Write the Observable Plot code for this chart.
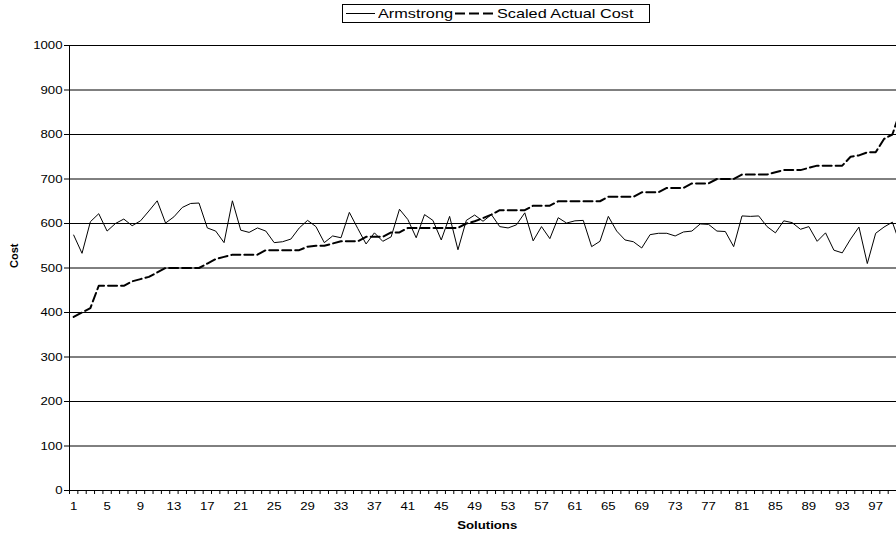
<!DOCTYPE html>
<html>
<head>
<meta charset="utf-8">
<script src="https://cdn.jsdelivr.net/npm/d3@7"></script>
<script src="https://cdn.jsdelivr.net/npm/@observablehq/plot@0.6"></script>
<style>
  html, body { margin: 0; padding: 0; background: #fff; overflow: hidden; width: 896px; height: 535px; }
  #wrap { position: relative; width: 896px; height: 535px; font-family: "Liberation Sans", Arial, sans-serif; }
  #legend { position: absolute; left: 342px; top: 4px; width: 308px; height: 19px; box-sizing: border-box;
            border: 1px solid #000; background: #fff; font-size: 13px; color: #000; }
  #legend .item { position: absolute; top: 0; height: 17px; line-height: 17px; white-space: nowrap;
                  transform-origin: left center; transform: scaleX(1.25); }
  #legend svg { position: absolute; top: 0; }
</style>
</head>
<body>
<div id="wrap">
  <div id="chart"></div>
  <div id="legend">
    <svg style="left:3px" width="29" height="17"><line x1="0" y1="8.5" x2="29" y2="8.5" stroke="#000" stroke-width="1"/></svg>
    <span class="item" style="left:35px">Armstrong</span>
    <svg style="left:112px" width="38" height="17"><line x1="0" y1="8.5" x2="38" y2="8.5" stroke="#000" stroke-width="2" stroke-dasharray="10,4"/></svg>
    <span class="item" style="left:154px">Scaled Actual Cost</span>
  </div>
</div>
<script>
const seriesNames = ["Armstrong", "Scaled Actual Cost"];

const armstrong = [
  574,533,604,622,583,600,610,595,606,628,
  651,601,615,636,645,646,590,583,557,651,
  585,580,590,583,557,559,565,590,607,593,
  557,572,568,625,589,554,579,560,570,632,
  609,568,620,607,563,616,541,607,619,605,
  620,593,590,597,624,561,593,566,613,601,
  606,607,548,560,616,583,563,559,545,575,
  578,578,572,581,583,599,598,583,582,548,
  617,616,617,593,579,606,602,587,593,560,
  579,540,534,565,592,510,578,592,603,550
];

const scaledActualCost = [
  390,400,410,460,460,460,460,470,475,480,
  490,500,500,500,500,500,510,520,525,530,
  530,530,530,540,540,540,540,540,548,550,
  550,555,560,560,560,570,570,570,580,580,
  590,590,590,590,590,590,590,600,605,612,
  620,630,630,630,630,640,640,640,650,650,
  650,650,650,650,660,660,660,660,670,670,
  670,680,680,680,690,690,690,700,700,700,
  710,710,710,710,715,720,720,720,725,730,
  730,730,730,750,753,760,760,790,800,855
];

const xTickLabels = [1,5,9,13,17,21,25,29,33,37,41,45,49,53,57,61,65,69,73,77,81,85,89,93,97];
const yTicks = [0,100,200,300,400,500,600,700,800,900,1000];

const armData = armstrong.map((v, i) => ({solution: i + 1, value: v}));
const sacData = scaledActualCost.map((v, i) => ({solution: i + 1, value: v}));
const nCats = armstrong.length;
const boundaries = d3.range(0, nCats + 1).map(i => i + 0.5);

const STRETCH = 1.2;
const font = "'Liberation Sans', Arial, sans-serif";

const chart = Plot.plot({
  width: 896,
  height: 535,
  marginLeft: 69,
  marginRight: -8.4,
  marginTop: 45,
  marginBottom: 45,
  style: {fontFamily: font, fontSize: "11px", color: "#000", background: "transparent"},
  x: {domain: [0.5, nCats + 0.5]},
  y: {domain: [0, 1000]},
  marks: [
    Plot.ruleY(yTicks.filter(d => d > 0), {stroke: "#000", strokeWidth: 1}),
    Plot.ruleX([0.5], {stroke: "#000", strokeWidth: 1}),
    Plot.ruleY([0], {stroke: "#000", strokeWidth: 1}),
    Plot.axisY({ticks: yTicks, tickFormat: d => String(d), tickSize: 5, tickPadding: 2, label: null, stroke: "#000", strokeOpacity: 1}),
    Plot.axisX({ticks: boundaries, tickSize: 4, tickFormat: () => "", label: null, stroke: "#000", strokeOpacity: 1}),
    Plot.axisX({ticks: xTickLabels, tickFormat: d => String(d), tickSize: 0, tickPadding: 12, label: null}),
    Plot.line(armData, {x: "solution", y: "value", stroke: "#000", strokeWidth: 1, strokeLinejoin: "miter"}),
    Plot.line(sacData, {x: "solution", y: "value", stroke: "#000", strokeWidth: 2, strokeDasharray: "9,4"}),
    Plot.text(["Solutions"], {frameAnchor: "bottom", dy: 38.5, lineAnchor: "bottom", fontWeight: "bold", fontSize: 11}),
    Plot.text(["Cost"], {frameAnchor: "left", dx: -55, rotate: -90, fontWeight: "bold", fontSize: 11})
  ]
});

document.getElementById("chart").appendChild(chart);

// the reference image is stretched horizontally: widen the horizontal texts around their anchor
chart.querySelectorAll("text").forEach(t => {
  const tr = t.getAttribute("transform") || "";
  if (tr.includes("rotate") || !t.textContent) return;
  const b = t.getBBox();
  if (!b || !isFinite(b.x) || b.width === 0) return;
  const anchor = getComputedStyle(t).textAnchor;
  const cx = anchor === "end" ? b.x + b.width : anchor === "middle" ? b.x + b.width / 2 : b.x;
  t.setAttribute("transform", `${tr} translate(${cx},0) scale(${STRETCH},1) translate(${-cx},0)`.trim());
});
</script>
</body>
</html>
